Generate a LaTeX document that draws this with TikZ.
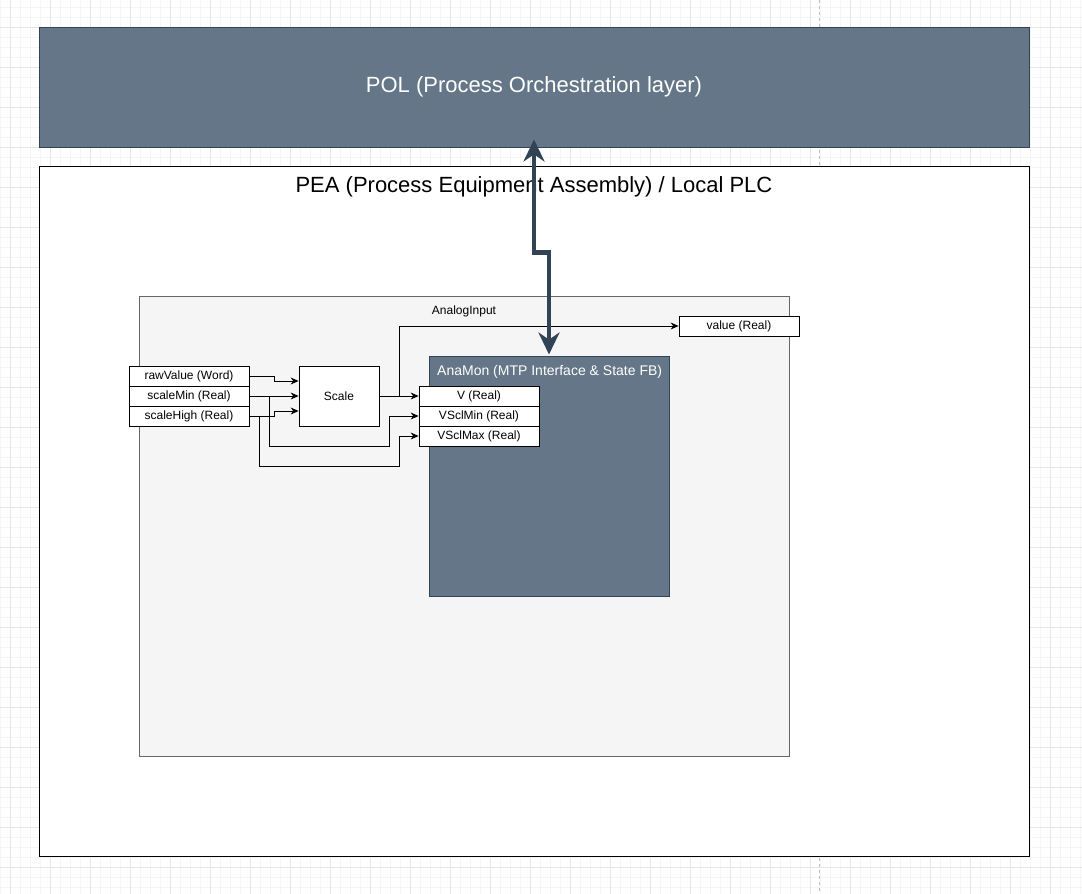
\documentclass[tikz,border=0pt]{standalone}
\usepackage{fontspec}
\setmainfont{Liberation Sans}
\usepackage{tikz}
\usetikzlibrary{arrows.meta,calc}

\definecolor{polfill}{HTML}{647687}
\definecolor{polline}{HTML}{314354}
\definecolor{fbfill}{HTML}{F5F5F5}
\definecolor{fbline}{HTML}{666666}
\definecolor{gridminor}{HTML}{F5F5F5}
\definecolor{gridmajor}{HTML}{E6E6E6}
\definecolor{pagebreak}{HTML}{BFBFBF}

\tikzset{
  layerbox/.style={draw=polline, fill=polfill, inner sep=0pt, line width=1pt},
  pinbox/.style={draw, fill=white, minimum width=120pt, minimum height=20pt, inner sep=0pt, line width=0.8pt, font=\fontsize{12}{14}\selectfont},
  titletext/.style={font=\fontsize{22}{26}\selectfont},
  smalltext/.style={font=\fontsize{12}{14}\selectfont},
  sig/.style={-{Stealth[length=8pt,width=7pt]}, line width=0.8pt},
}

\begin{document}
\begin{tikzpicture}[x=1pt, y=-1pt]
\useasboundingbox (0,0) rectangle (1082,894);

% Background grid
\foreach \x in {0,10,...,1080}
    \draw[gridminor, line width=0.8pt] (\x,0) -- (\x,894);
\foreach \y in {7,17,...,894}
    \draw[gridminor, line width=0.8pt] (0,\y) -- (1082,\y);
\foreach \x in {10,50,...,1080}
    \draw[gridmajor, line width=0.8pt] (\x,0) -- (\x,894);
\foreach \y in {27,67,...,894}
    \draw[gridmajor, line width=0.8pt] (0,\y) -- (1082,\y);
\draw[pagebreak, dash pattern=on 3pt off 3pt, line width=0.8pt] (819,0) -- (819,894);

% Main layers
\node[layerbox, minimum width=990pt, minimum height=120pt, text=white, titletext] (pol) at (534,87) {POL (Process Orchestration layer)};

\node[draw, fill=white, line width=1pt, minimum width=990pt, minimum height=690pt, inner sep=0pt] (pea) at (534,511) {};
\node[titletext] (peatitle) at (534,187) {PEA (Process Equipment Assembly) / Local PLC};

% Function block
\node[draw=fbline, fill=fbfill, line width=0.8pt, minimum width=650pt, minimum height=460pt, inner sep=0pt] (analog) at (464,526) {};
\node[smalltext] (analogtitle) at (464,311) {AnalogInput};

\node[layerbox, minimum width=240pt, minimum height=240pt] (anamon) at (549,476) {};
\node[anchor=west, inner sep=0pt, text=white, font=\fontsize{14}{16}\selectfont] (anamontitle) at (437,372) {AnaMon (MTP Interface \& State FB)};

% Pins (inputs, outputs, MTP interface)
\node[pinbox] (raw) at (189,376) {rawValue (Word)};
\node[pinbox] (smin) at (189,396) {scaleMin (Real)};
\node[pinbox] (shigh) at (189,416) {scaleHigh (Real)};

\node[pinbox, minimum width=80pt, minimum height=60pt] (scale) at (339,396) {Scale};

\node[pinbox] (value) at (739,326) {value (Real)};

\node[pinbox] (v) at (479,396) {V (Real)};
\node[pinbox] (vsclmin) at (479,416) {VSclMin (Real)};
\node[pinbox] (vsclmax) at (479,436) {VSclMax (Real)};

% Connections
\draw[sig] (raw.east) -- ++(25,0) |- ([yshift=15pt]scale.west);
\draw[sig] (smin.east) -- (scale.west);
\draw[sig] (shigh.east) -- ++(25,0) |- ([yshift=-15pt]scale.west);

\draw[sig] (scale.east) -- (v.west);
\draw[sig] (scale.east) -- ++(20,0) |- (value.west);

\draw[sig] (smin.east) -- ++(20,0) -- ++(0,50) -- ++(120,0) |- (vsclmin.west);
\draw[sig] (shigh.east) -- ++(10,0) -- ++(0,50) -- ++(140,0) |- (vsclmax.west);

% POL <-> PEA link
\draw[polline, line width=4.5pt, {Stealth[length=22pt,width=21pt]}-{Stealth[length=22pt,width=21pt]}]
    ([yshift=8pt]pol.south) -- ++(0,113) -- ++(15,0) -- ([yshift=1pt]anamon.north);

\end{tikzpicture}
\end{document}
